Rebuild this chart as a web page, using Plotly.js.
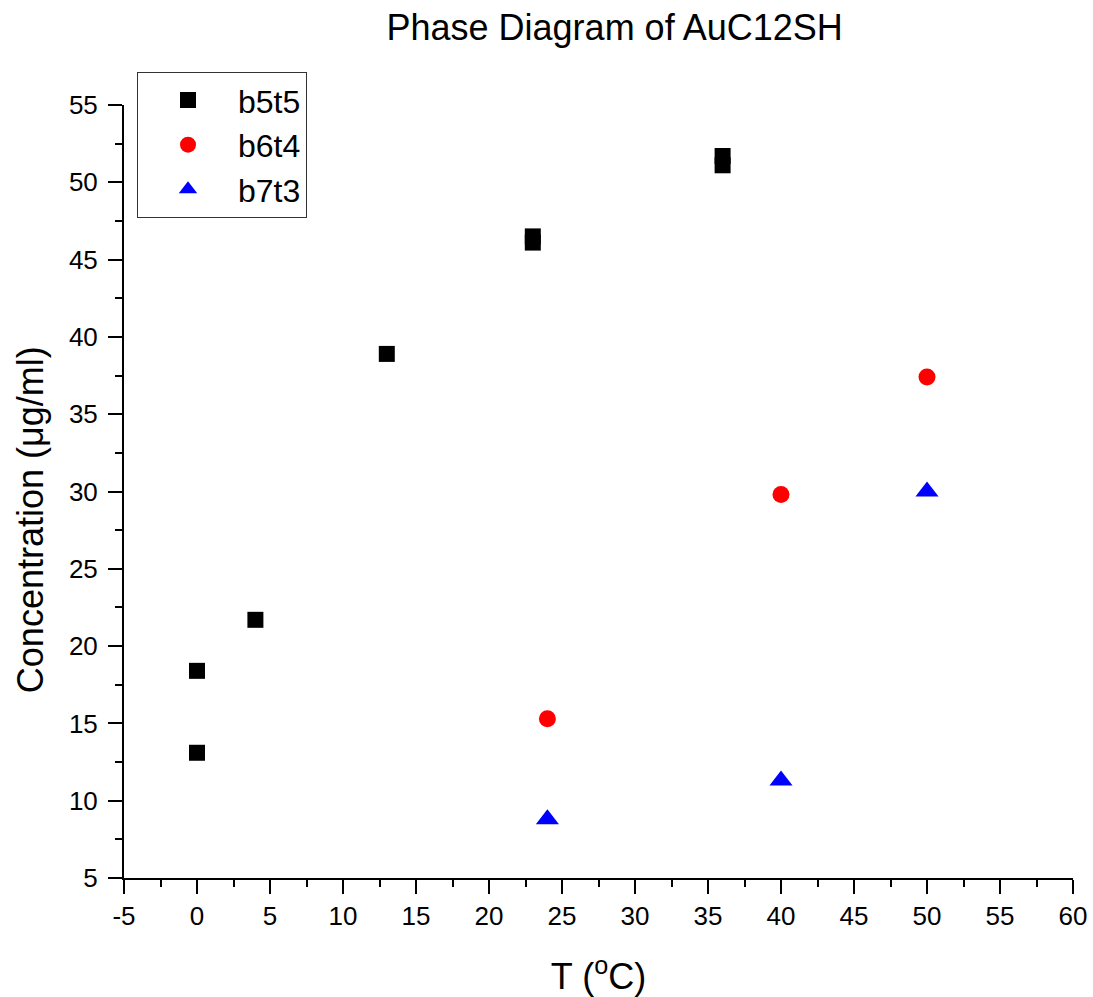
<!DOCTYPE html>
<html>
<head>
<meta charset="utf-8">
<script src="https://cdn.plot.ly/plotly-3.0.1.min.js"></script>
<style>html,body{margin:0;padding:0;background:#fff;}#chart{width:1093px;height:997px;}</style>
</head>
<body>
<div id="chart"></div>
<script>
const b5t5_T = [0, 0, 4, 13, 23, 23, 36, 36];
const b5t5_C = [13.1, 18.4, 21.7, 38.9, 46.1, 46.5, 51.1, 51.7];
const b6t4_T = [24, 40, 50];
const b6t4_C = [15.3, 29.8, 37.4];
const b7t3_T = [24, 40, 50];
const b7t3_C = [8.8, 11.3, 30.0];
const xTickVals = [-5, 0, 5, 10, 15, 20, 25, 30, 35, 40, 45, 50, 55, 60];
const xTickText = ['-5', '0', '5', '10', '15', '20', '25', '30', '35', '40', '45', '50', '55', '60'];
const yTickVals = [5, 10, 15, 20, 25, 30, 35, 40, 45, 50, 55];
const yTickText = ['5', '10', '15', '20', '25', '30', '35', '40', '45', '50', '55'];

const font = '"Liberation Sans", Arial, sans-serif';
const traces = [
  {x: b5t5_T, y: b5t5_C, name: 'b5t5', type: 'scatter', mode: 'markers',
   marker: {symbol: 'square', size: 16, color: '#000000'}},
  {x: b6t4_T, y: b6t4_C, name: 'b6t4', type: 'scatter', mode: 'markers',
   marker: {symbol: 'circle', size: 17, color: '#ff0000'}},
  {x: b7t3_T, y: b7t3_C, name: 'b7t3', type: 'scatter', mode: 'markers',
   marker: {symbol: 'triangle-up', size: 20, color: '#0000ff'}}
];
const axisCommon = {
  showgrid: false, zeroline: false, showline: true, linecolor: '#000', linewidth: 2,
  ticks: 'outside', ticklen: 14, tickwidth: 2, tickcolor: '#000',
  tickfont: {family: font, size: 26, color: '#000'},
  minor: {ticks: 'outside', ticklen: 7, tickwidth: 2, tickcolor: '#000', dtick: 2.5, showgrid: false}
};
const layout = {
  width: 1093, height: 997,
  margin: {l: 124, r: 20, t: 105, b: 119},
  paper_bgcolor: '#fff', plot_bgcolor: '#fff',
  font: {family: font, color: '#000'},
  title: {text: 'Phase Diagram of AuC12SH', font: {family: font, size: 36, color: '#000'},
          x: 0.517, xref: 'paper', xanchor: 'center', y: 0.973, yanchor: 'middle'},
  xaxis: Object.assign({}, axisCommon, {range: [-5, 60], tickmode: 'array', tickvals: xTickVals, ticktext: xTickText,
          title: {text: 'T (<sup>o</sup>C)', font: {family: font, size: 36, color: '#000'}, standoff: 40}}),
  yaxis: Object.assign({}, axisCommon, {range: [5, 55], tickmode: 'array', tickvals: yTickVals, ticktext: yTickText,
          ticklabelstandoff: 5}),
  annotations: [{text: 'Concentration (\u03bcg/ml)', textangle: -90, showarrow: false,
                 xref: 'paper', yref: 'paper', x: -0.099, y: 0.463, xanchor: 'center', yanchor: 'middle',
                 font: {family: font, size: 36, color: '#000'}}],
  showlegend: true,
  legend: {x: 0.0137, y: 1.043, xanchor: 'left', yanchor: 'top', traceorder: 'normal',
           bordercolor: '#333', borderwidth: 1, bgcolor: '#fff',
           font: {family: font, size: 32, color: '#000'}, itemwidth: 90}
};
Plotly.newPlot('chart', traces, layout, {displayModeBar: false});
</script>
</body>
</html>
